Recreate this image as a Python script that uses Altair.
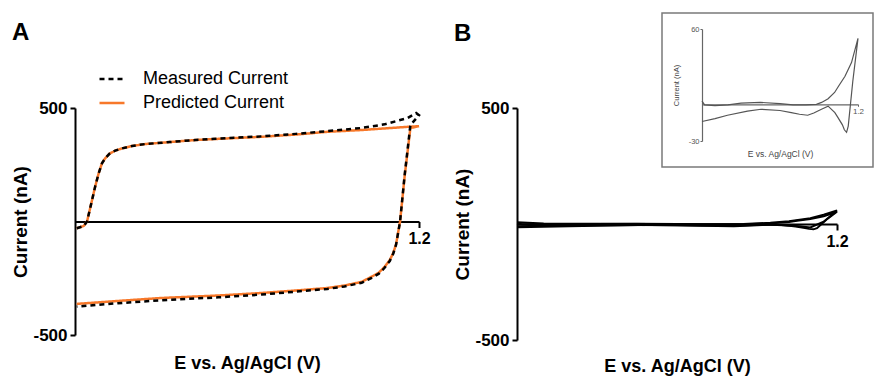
import altair as alt
import pandas as pd

FONT = "Liberation Sans"
ORANGE = "#f7782a"

# ---------------- Panel A : measured vs predicted CV ----------------
a_pred_fwd_E = [0.006, 0.03, 0.042, 0.055, 0.07, 0.082, 0.094, 0.105, 0.12, 0.14, 0.164, 0.2, 0.244, 0.33, 0.42, 0.53, 0.65, 0.77, 0.88, 1.0, 1.08, 1.16, 1.2]
a_pred_fwd_I = [-30, -20, 0, 70, 152, 210, 256, 278, 298, 312, 322, 333, 341, 350, 359, 366, 373, 383, 395, 403, 410, 417, 420]
a_pred_rev_E = [1.2, 1.17, 1.15, 1.134, 1.12, 1.11, 1.098, 1.08, 1.06, 1.035, 1.0, 0.94, 0.88, 0.77, 0.65, 0.5, 0.3, 0.15, 0.006]
a_pred_rev_I = [420, 412, 200, 0, -100, -139, -170, -200, -225, -243, -266, -282, -293, -304, -315, -326, -337, -350, -363]

a_meas_fwd_E = [0.006, 0.03, 0.042, 0.055, 0.07, 0.082, 0.094, 0.105, 0.12, 0.14, 0.164, 0.2, 0.244, 0.33, 0.42, 0.53, 0.65, 0.77, 0.88, 1.0, 1.08, 1.16, 1.19, 1.2]
a_meas_fwd_I = [-30, -20, 0, 70, 152, 210, 256, 278, 298, 312, 322, 333, 341, 350, 359, 367, 375, 386, 398, 412, 428, 456, 478, 468]
a_meas_rev_E = [1.2, 1.17, 1.15, 1.134, 1.12, 1.11, 1.098, 1.08, 1.06, 1.035, 1.0, 0.94, 0.88, 0.77, 0.65, 0.5, 0.3, 0.15, 0.006]
a_meas_rev_I = [468, 425, 205, 0, -102, -142, -174, -204, -230, -248, -270, -286, -297, -309, -322, -334, -347, -360, -375]

# ---------------- Panel B : control CV (two cycles) ----------------
b1_fwd_E = [0, 0.02, 0.1, 0.2, 0.3, 0.45, 0.6, 0.7, 0.8, 0.88, 0.92, 0.97, 1.02, 1.05, 1.1, 1.15, 1.2]
b1_fwd_I = [2, -1, -1.5, -1, 0.5, 1, 0, -1, -1, -0.5, 1, 4, 9, 14, 22, 33, 52.5]
b1_rev_E = [1.2, 1.16, 1.125, 1.112, 1.095, 1.08, 1.045, 1.022, 0.97, 0.919, 0.86, 0.813, 0.75, 0.687, 0.6, 0.454, 0.35, 0.196, 0.1, 0]
b1_rev_I = [52.5, 18, -18, -23, -21, -17, -11, -7.2, -2, -4.5, -7.5, -9.3, -8.5, -7.2, -5.5, -4.5, -6, -9.3, -12, -14.3]

b2_fwd_E = [0, 0.1, 0.3, 0.5, 0.7, 0.85, 0.95, 1.02, 1.1, 1.15, 1.2]
b2_fwd_I = [8, 2, 1, 0, -1, 0, 5, 12, 25, 40, 58]
b2_rev_E = [1.2, 1.15, 1.1, 1.06, 1.0, 0.95, 0.85, 0.7, 0.5, 0.3, 0.1, 0]
b2_rev_I = [58, 10, -15, -10, -5, -3, -5, -6, -4, -5, -8, -10]

SERIES = ["Measured Current", "Predicted Current"]


def cv(fwd_E, fwd_I, rev_E, rev_I, **tags):
    E = list(fwd_E) + list(rev_E)
    I = list(fwd_I) + list(rev_I)
    d = pd.DataFrame({"E": E, "I": I, "idx": list(range(len(E)))})
    for k, v in tags.items():
        d[k] = v
    return d


dfA = pd.concat([
    cv(a_meas_fwd_E, a_meas_fwd_I, a_meas_rev_E, a_meas_rev_I, series=SERIES[0]),
    cv(a_pred_fwd_E, a_pred_fwd_I, a_pred_rev_E, a_pred_rev_I, series=SERIES[1]),
], ignore_index=True)

dfB = pd.concat([
    cv(b1_fwd_E, b1_fwd_I, b1_rev_E, b1_rev_I, cycle="1"),
    cv(b2_fwd_E, b2_fwd_I, b2_rev_E, b2_rev_I, cycle="2"),
], ignore_index=True)

dfInset = cv(b1_fwd_E, b1_fwd_I, b1_rev_E, b1_rev_I, cycle="1")

W_A, H_A = 344, 227
W_B, H_B = 320, 232

HYPHEN_LABEL = "datum.value < 0 ? '-' + format(-datum.value, 'd') : format(datum.value, 'd')"


def x_axis_main(H):
    return alt.Axis(values=[1.2], format=".1f", offset=-H / 2, labelFlush=False,
                    domainColor="black", domainWidth=2, tickColor="black", tickWidth=2,
                    tickSize=6, labelColor="black", labelFont=FONT, labelFontSize=16,
                    labelFontWeight="bold", labelPadding=3,
                    title="E vs. Ag/AgCl (V)", titleFont=FONT, titleFontSize=18,
                    titleFontWeight="bold", titleColor="black", titlePadding=108, grid=False)


def y_axis_main():
    return alt.Axis(values=[-500, 500], labelExpr=HYPHEN_LABEL, domainColor="black",
                    domainWidth=2, tickColor="black", tickWidth=2, tickSize=5,
                    labelColor="black", labelFont=FONT, labelFontSize=17,
                    labelFontWeight="bold", labelPadding=3,
                    title="Current (nA)", titleFont=FONT, titleFontSize=19,
                    titleFontWeight="bold", titleColor="black", titlePadding=2, grid=False)


def panel_title(txt, dy):
    return alt.TitleParams(txt, anchor="start", frame="bounds", font=FONT, fontSize=24,
                           fontWeight="bold", color="black", dy=dy, offset=0)


legend = alt.Legend(title=None, orient="none", legendX=23, legendY=-43, symbolType="stroke",
                    symbolSize=625, symbolStrokeWidth=2.5, labelFont=FONT, labelFontSize=18,
                    labelColor="black", labelOffset=17, rowPadding=1, padding=0)

xA = alt.X("E:Q", scale=alt.Scale(domain=[0, 1.2], nice=False, zero=False), axis=x_axis_main(H_A))
yA = alt.Y("I:Q", scale=alt.Scale(domain=[-500, 500], nice=False), axis=y_axis_main())
colorA = alt.Color("series:N", scale=alt.Scale(domain=SERIES, range=["black", ORANGE]), legend=legend)
dashA = alt.StrokeDash("series:N", scale=alt.Scale(domain=SERIES, range=[[5, 4], [1, 0]]), legend=legend)

baseA = alt.Chart(dfA).encode(x=xA, y=yA, color=colorA, strokeDash=dashA, order=alt.Order("idx:Q"))
predA = baseA.transform_filter(alt.datum.series == SERIES[1]).mark_line(strokeWidth=2.5)
measA = baseA.transform_filter(alt.datum.series == SERIES[0]).mark_line(strokeWidth=2.5)

chartA = alt.layer(predA, measA).properties(width=W_A, height=H_A, title=panel_title("A", -54))

# Panel B main
mainB = alt.Chart(dfB).mark_line(color="black", strokeWidth=2).encode(
    x=alt.X("E:Q", scale=alt.Scale(domain=[0, 1.2], nice=False, zero=False), axis=x_axis_main(H_B)),
    y=alt.Y("I:Q", scale=alt.Scale(domain=[-500, 500], nice=False), axis=y_axis_main()),
    detail="cycle:N",
    order=alt.Order("idx:Q"),
)

frame = alt.Chart(pd.DataFrame({"k": [0]})).mark_rect(
    fillOpacity=0, stroke="#7a7a7a", strokeWidth=1.5
).encode(x=alt.value(145), x2=alt.value(356), y=alt.value(-95), y2=alt.value(59))

INSET_GRAY = "#666666"
inset = alt.Chart(dfInset).mark_line(color="#555555", strokeWidth=1.2).encode(
    x=alt.X("E:Q", scale=alt.Scale(domain=[0, 1.2], range=[185, 341], nice=False, zero=False),
            axis=alt.Axis(orient="bottom", offset=-(H_B + 3.7), values=[1.2], format=".1f",
                          labelFlush=False, domainColor=INSET_GRAY, domainWidth=1.2,
                          tickColor=INSET_GRAY, tickSize=2, labelColor="#555555", labelFont=FONT,
                          labelFontSize=8, labelPadding=1, title="E vs. Ag/AgCl (V)",
                          titleFont=FONT, titleFontSize=8.5, titleFontWeight="normal",
                          titleColor="#444444", titlePadding=34, grid=False)),
    y=alt.Y("I:Q", scale=alt.Scale(domain=[-30, 60], range=[33, -79], nice=False, zero=False),
            axis=alt.Axis(orient="left", offset=-185, values=[-30, 60], labelExpr=HYPHEN_LABEL,
                          domainColor=INSET_GRAY, domainWidth=1.2, tickColor=INSET_GRAY,
                          tickSize=2, labelColor="#555555",
                          labelFont=FONT, labelFontSize=7.5, labelPadding=1,
                          title="Current (nA)", titleFont=FONT, titleFontSize=7.5,
                          titleFontWeight="normal", titleColor="#444444", titlePadding=8, grid=False)),
    order=alt.Order("idx:Q"),
)

chartB = alt.layer(mainB, frame, inset).resolve_scale(
    x="independent", y="independent"
).properties(width=W_B, height=H_B, title=panel_title("B", 34))

chart = alt.hconcat(chartA, chartB, spacing=98, bounds="flush").configure_view(
    stroke=None
).properties(padding={"left": 11, "top": 12, "right": 0, "bottom": 5})

chart.save("out.html", embed_options={"renderer": "svg", "actions": False})
